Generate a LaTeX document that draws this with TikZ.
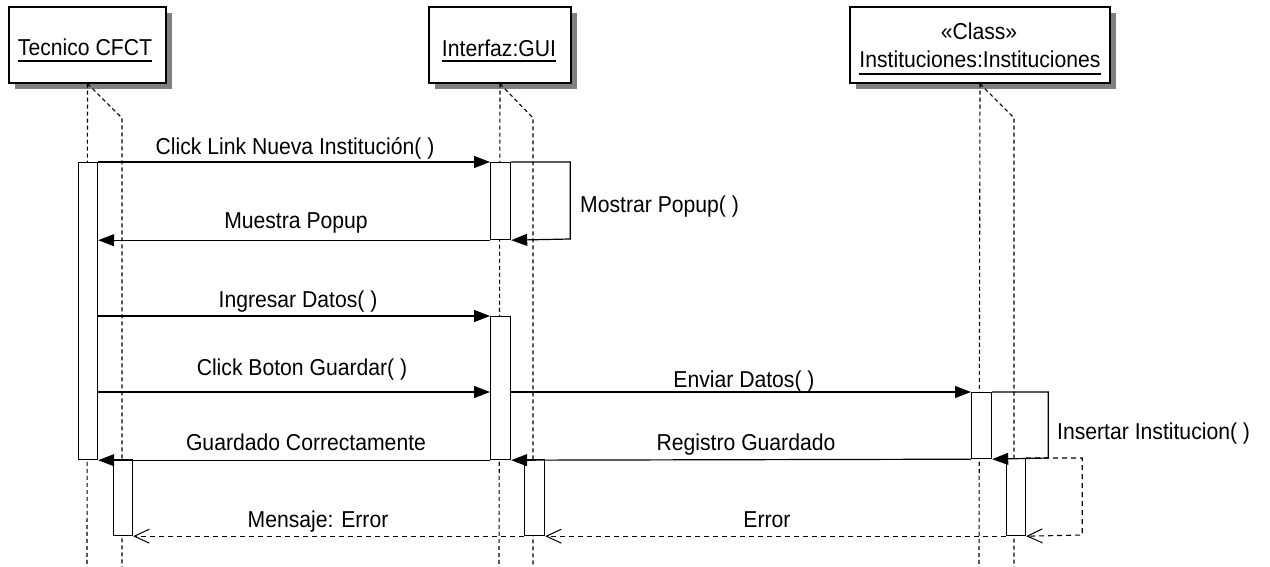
\documentclass[tikz,border=0pt]{standalone}
\usepackage{fontspec}
\setmainfont{Liberation Sans}[FakeStretch=0.92]
\usetikzlibrary{arrows.meta,shadows}
\begin{document}
\begin{tikzpicture}[x=1pt,y=-1pt,
  every node/.style={font=\fontsize{23}{27}\selectfont, inner sep=0pt},
  objbox/.style={draw=black, line width=1.5pt, fill=white,
    drop shadow={shadow xshift=6pt, shadow yshift=-6pt, fill=black!50, opacity=1}},
  life/.style={line width=1.1pt, dash pattern=on 4pt off 3pt},
  actbar/.style={draw=black, line width=1.2pt, fill=white, anchor=north west},
  msg/.style={line width=1.2pt, -{Triangle[length=16pt,width=12pt]}},
  ret/.style={line width=1.1pt, dash pattern=on 5pt off 4pt,
    -{Straight Barb[length=15pt,width=14pt,line width=1pt]}},
  lbl/.style={anchor=base},
  uline/.style={line width=1.1pt}
]
\useasboundingbox (0,0) rectangle (1270,567);
\fill[white] (0,0) rectangle (1270,567);

% object boxes
\node[objbox, minimum width=157pt, minimum height=76pt] (tec) at (87.5,45) {};
\node[objbox, minimum width=142pt, minimum height=76pt] (gui) at (500,45) {};
\node[objbox, minimum width=260pt, minimum height=76pt] (ins) at (980,45) {};

\node[lbl] (tect) at (85,56) {Tecnico CFCT};
\draw[uline] ([yshift=-5pt]tect.base west) -- ([yshift=-5pt]tect.base east);
\node[lbl] (guit) at (499,57) {Interfaz:GUI};
\draw[uline] ([yshift=-4pt]guit.base west) -- ([yshift=-4pt]guit.base east);
\node[lbl] (clst) at (979,40) {«Class»};
\node[lbl] (inst) at (980,68) {Instituciones:Instituciones};
\draw[uline] ([yshift=-6pt]inst.base west) -- ([yshift=-6pt]inst.base east);

% lifeline end points
\coordinate (tecE1) at (87,567);
\coordinate (tecB) at (122,118);
\coordinate (tecE2) at (122,567);
\coordinate (guiE1) at (499,567);
\coordinate (guiB) at (533,118);
\coordinate (guiE2) at (533,567);
\coordinate (insE1) at (979,567);
\coordinate (insB) at (1014,118);
\coordinate (insE2) at (1014,567);

\draw[life] (tec.south) -- (tecE1);
\draw[life] (tec.south) -- (tecB) -- (tecE2);
\draw[life] (gui.south) -- (guiE1);
\draw[life] (gui.south) -- (guiB) -- (guiE2);
\draw[life] (ins.south) -- (insE1);
\draw[life] (ins.south) -- (insB) -- (insE2);

% activation bars
\node[actbar, minimum width=19pt, minimum height=297pt] (a1) at (78,162) {};
\node[actbar, minimum width=19pt, minimum height=76pt] (a2) at (113,459) {};
\node[actbar, minimum width=20pt, minimum height=77pt] (b1) at (490,162) {};
\node[actbar, minimum width=20pt, minimum height=143pt] (b2) at (490,316) {};
\node[actbar, minimum width=20pt, minimum height=76pt] (b3) at (524,459) {};
\node[actbar, minimum width=20pt, minimum height=66pt] (c1) at (971,392) {};
\node[actbar, minimum width=19pt, minimum height=77pt] (c2) at (1006,458) {};

% messages
\draw[msg] (a1.north east) -- (b1.north west);
\draw[msg] (b1.north east) -- ++(59,0) -- ++(0,77) -- (b1.south east);
\draw[msg] (b1.south west) -- (b1.south west -| a1.east);
\draw[msg] (a1.east |- b2.north) -- (b2.north west);
\draw[msg] (a1.east |- c1.north) -- (b2.west |- c1.north);
\draw[msg] (b2.east |- c1.north) -- (c1.north west);
\draw[msg] (c1.north east) -- ++(56,0) -- ++(0,66) -- (c1.south east);
\draw[msg] (c1.south west) -- (b2.south east);
\draw[msg] (b2.south west) -- (a1.south east);
\draw[ret] (c2.north east) -- ++(56,0) -- ++(0,77) -- (c2.south east);
\draw[ret] (c2.south west) -- (b3.south east);
\draw[ret] (b3.south west) -- (a2.south east);

% labels
\node[lbl] (l1) at (295,155) {Click Link Nueva Institución( )};
\node[lbl] (l2) at (296,229) {Muestra Popup};
\node[lbl] (l3) at (298,307) {Ingresar Datos( )};
\node[lbl] (l4) at (302,375) {Click Boton Guardar( )};
\node[lbl] (l5) at (744,387) {Enviar Datos( )};
\node[lbl] (l6) at (746,450) {Registro Guardado};
\node[lbl] (l7) at (306,450) {Guardado Correctamente};
\node[lbl] (l8) at (318,527) {Mensaje: Error};
\node[lbl] (l9) at (767,527) {Error};
\node[anchor=base west] (l10) at (580,213) {Mostrar Popup( )};
\node[anchor=base west] (l11) at (1057,439) {Insertar Institucion( )};
\end{tikzpicture}
\end{document}
